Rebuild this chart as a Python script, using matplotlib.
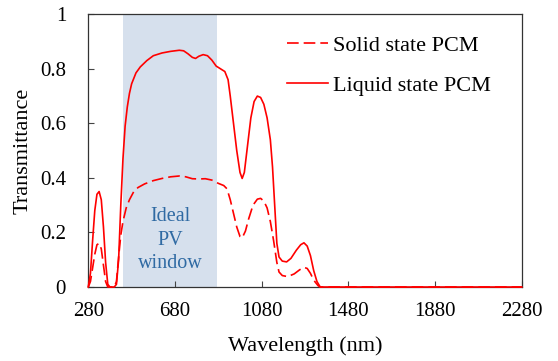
import matplotlib
matplotlib.use('Agg')
import matplotlib.pyplot as plt
from matplotlib.ticker import FormatStrFormatter

plt.rcParams['font.family'] = ['Liberation Serif', 'DejaVu Serif']

# 液态 PCM 透射率
liquid_wl = [280, 290, 300, 310, 320, 330, 340, 350, 360, 370, 380, 400, 410, 420,
             430, 440, 450, 460, 470, 480, 500, 520, 550, 580, 620, 660, 700, 720,
             740, 760, 775, 790, 810, 830, 850, 870, 890, 910, 925, 935, 950, 965,
             980, 990, 1000, 1015, 1030, 1045, 1060, 1075, 1090, 1105, 1120, 1130,
             1140, 1150, 1160, 1175, 1195, 1215, 1240, 1260, 1275, 1290, 1305, 1320,
             1335, 1350, 2280]
liquid_t = [0, 0.05, 0.17, 0.28, 0.34, 0.35, 0.32, 0.22, 0.09, 0.01, 0, 0, 0.01, 0.10,
            0.30, 0.47, 0.59, 0.66, 0.71, 0.745, 0.785, 0.807, 0.83, 0.848, 0.858, 0.864,
            0.868, 0.866, 0.855, 0.842, 0.838, 0.846, 0.852, 0.848, 0.832, 0.81, 0.80,
            0.79, 0.76, 0.70, 0.60, 0.50, 0.42, 0.398, 0.42, 0.52, 0.62, 0.68, 0.70,
            0.695, 0.67, 0.62, 0.54, 0.44, 0.30, 0.16, 0.11, 0.095, 0.092, 0.105, 0.135,
            0.155, 0.162, 0.15, 0.115, 0.06, 0.02, 0, 0]

# 固态 PCM 透射率
solid_wl = [280, 290, 300, 310, 320, 330, 340, 350, 360, 370, 400, 410, 420, 430, 440,
            455, 470, 490, 510, 540, 580, 620, 660, 700, 730, 760, 790, 820, 850, 880,
            905, 920, 935, 950, 965, 980, 990, 1005, 1020, 1040, 1060, 1075, 1090, 1105,
            1120, 1135, 1150, 1160, 1175, 1200, 1230, 1255, 1275, 1290, 1305, 1320,
            1340, 1350, 2280]
solid_t = [0, 0.02, 0.07, 0.12, 0.155, 0.16, 0.14, 0.08, 0.02, 0, 0, 0.02, 0.11, 0.19,
           0.24, 0.29, 0.32, 0.35, 0.365, 0.378, 0.39, 0.398, 0.404, 0.407, 0.404, 0.397,
           0.396, 0.397, 0.392, 0.38, 0.372, 0.36, 0.32, 0.27, 0.22, 0.185, 0.18, 0.205,
           0.25, 0.30, 0.322, 0.325, 0.315, 0.29, 0.24, 0.17, 0.09, 0.055, 0.042, 0.038,
           0.048, 0.063, 0.072, 0.068, 0.05, 0.025, 0.005, 0, 0]

pv_window = (441, 873)
x_ticks = [280, 680, 1080, 1480, 1880, 2280]
y_ticks = [0, 0.2, 0.4, 0.6, 0.8, 1.0]

fig = plt.figure(figsize=(5.58, 3.61), dpi=100)
ax = fig.add_axes([0.1582, 0.205, 0.7769, 0.7555])

ax.axvspan(pv_window[0], pv_window[1], color='#d6e0ed', lw=0, zorder=0)
ax.text(sum(pv_window) / 2, 0.172, 'Ideal\nPV\nwindow', ha='center', va='center',
        fontsize=14.5, color='#2f6aa3', linespacing=1.3)

ax.plot(solid_wl, solid_t, color='red', lw=1.2, linestyle=(0, (7, 3)),
        label='Solid state PCM', clip_on=False, zorder=3)
ax.plot(liquid_wl, liquid_t, color='red', lw=1.2, label='Liquid state PCM',
        clip_on=False, zorder=3)

ax.set_xlim(280, 2280)
ax.set_ylim(0, 1)
ax.set_xticks(x_ticks)
ax.set_yticks(y_ticks)
ax.yaxis.set_major_formatter(FormatStrFormatter('%g'))
ax.tick_params(axis='x', direction='in', length=4, width=0.8, color='#444444',
               labelsize=15, pad=11)
ax.tick_params(axis='y', direction='in', length=4, width=0.8, color='#444444',
               labelsize=15, pad=16)
for s in ax.spines.values():
    s.set_color('#333333')
    s.set_linewidth(0.9)

ax.set_xlabel('Wavelength (nm)', fontsize=16, labelpad=11)
ax.set_ylabel('Transmittance', fontsize=16, labelpad=5)

ax.legend(loc='upper left', bbox_to_anchor=(0.458, 0.922), frameon=False,
          fontsize=16, handlelength=1.85, handletextpad=0.25, labelspacing=0.86,
          borderpad=0, borderaxespad=0)

fig.savefig('out.png', dpi=100)
